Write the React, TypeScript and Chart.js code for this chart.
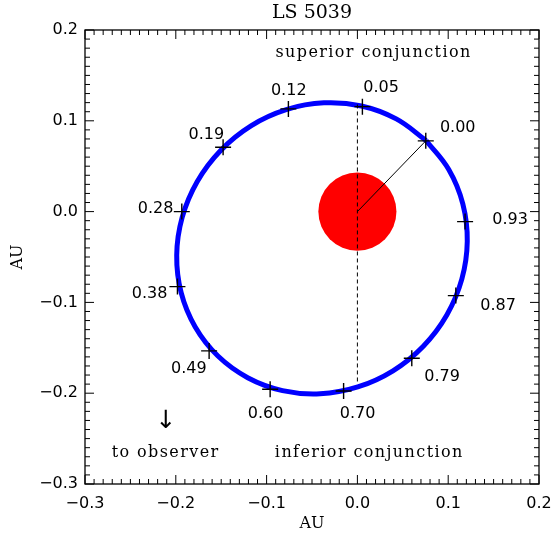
import React, { useEffect, useRef } from 'react';
import { Chart, registerables } from 'chart.js';

Chart.register(...registerables);

// ---- data ----
const TITLE = 'LS 5039';
const X_TITLE = 'AU';
const Y_TITLE = 'AU';

const xTickValues = [-0.3, -0.2, -0.1, 0.0, 0.1, 0.2];
const xTickLabels = ['\u22120.3', '\u22120.2', '\u22120.1', '0.0', '0.1', '0.2'];
const yTickValues = [-0.3, -0.2, -0.1, 0.0, 0.1, 0.2];
const yTickLabels = ['\u22120.3', '\u22120.2', '\u22120.1', '0.0', '0.1', '0.2'];

// orbit (counter-clockwise from periastron, closed)
const orbitX = [0.0756, 0.0428, 0.0045, -0.0369, -0.0784, -0.1172, -0.1506, -0.1765, -0.193, -0.199, -0.1941, -0.1786, -0.1536, -0.1208, -0.0825, -0.0411, 0.0004, 0.0392, 0.0726, 0.0985, 0.115, 0.121, 0.1161, 0.1006, 0.0756];
const orbitY = [0.0783, 0.1021, 0.1163, 0.1198, 0.1123, 0.0945, 0.0674, 0.033, -0.0064, -0.0481, -0.0893, -0.1271, -0.1591, -0.1829, -0.1971, -0.2006, -0.1931, -0.1753, -0.1482, -0.1138, -0.0744, -0.0327, 0.0085, 0.0463, 0.0783];

// orbital phase markers
const phaseLabels = ['0.00', '0.05', '0.12', '0.19', '0.28', '0.38', '0.49', '0.60', '0.70', '0.79', '0.87', '0.93'];
const phaseX = [0.0753, 0.0055, -0.076, -0.1479, -0.1934, -0.1982, -0.1633, -0.0961, -0.0152, 0.0599, 0.1084, 0.1186];
const phaseY = [0.0779, 0.1156, 0.1131, 0.0709, 0.0, -0.0826, -0.1534, -0.1956, -0.1975, -0.1615, -0.0925, -0.011];
const phaseLabelX = [0.1105, 0.0261, -0.0756, -0.1663, -0.2222, -0.2289, -0.1857, -0.1011, 0.0002, 0.0933, 0.155, 0.1682];
const phaseLabelY = [0.0881, 0.1322, 0.1285, 0.0797, -0.0018, -0.0954, -0.178, -0.2275, -0.2278, -0.1861, -0.1083, -0.0135];

// compact object / star
const starX = [0.0];
const starY = [0.0];
const STAR_RADIUS_AU = 0.043;

// line of conjunctions (dashed)
const conjX = [0.0, 0.0];
const conjY = [0.118, -0.189];

// periastron line (star -> phase 0.00)
const periX = [0.0, 0.0753];
const periY = [0.0, 0.0779];

// annotations
const annotTexts = ['superior conjunction', 'inferior conjunction', 'to observer'];
const annotX = [0.0178, 0.0131, -0.2112];
const annotY = [0.170, -0.2698, -0.2698];
const arrowText = '\u2193';
const arrowX = -0.2107;
const arrowY = -0.2316;

const X_MIN = -0.3, X_MAX = 0.2, Y_MIN = -0.3, Y_MAX = 0.2;
const MINOR_STEP = 0.01;

const pts = (xs: number[], ys: number[]) => xs.map((x, i) => ({ x, y: ys[i] }));

const frameTicksPlugin = {
  id: 'frameTicks',
  afterDatasetsDraw(chart: any) {
    const { ctx, chartArea: a, scales } = chart;
    const xs = scales.x, ys = scales.y;
    ctx.save();
    ctx.strokeStyle = '#000';
    ctx.lineWidth = 1.3;
    ctx.strokeRect(a.left, a.top, a.right - a.left, a.bottom - a.top);
    ctx.lineWidth = 1;
    ctx.beginPath();
    const nX = Math.round((X_MAX - X_MIN) / MINOR_STEP);
    for (let i = 0; i <= nX; i++) {
      const px = xs.getPixelForValue(X_MIN + i * MINOR_STEP);
      const len = i % 10 === 0 ? 9 : 5;
      ctx.moveTo(px, a.bottom); ctx.lineTo(px, a.bottom - len);
      ctx.moveTo(px, a.top); ctx.lineTo(px, a.top + len);
    }
    const nY = Math.round((Y_MAX - Y_MIN) / MINOR_STEP);
    for (let i = 0; i <= nY; i++) {
      const py = ys.getPixelForValue(Y_MIN + i * MINOR_STEP);
      const len = i % 10 === 0 ? 9 : 5;
      ctx.moveTo(a.left, py); ctx.lineTo(a.left + len, py);
      ctx.moveTo(a.right, py); ctx.lineTo(a.right - len, py);
    }
    ctx.stroke();

    ctx.fillStyle = '#000';
    ctx.textAlign = 'center';
    ctx.textBaseline = 'alphabetic';
    ctx.font = "16px 'DejaVu Sans'";
    phaseLabels.forEach((t, i) => {
      ctx.fillText(t, xs.getPixelForValue(phaseLabelX[i]), ys.getPixelForValue(phaseLabelY[i]));
    });

    ctx.font = "16px 'DejaVu Serif'";
    (ctx as any).letterSpacing = '1.4px';
    annotTexts.forEach((t, i) => {
      ctx.fillText(t, xs.getPixelForValue(annotX[i]), ys.getPixelForValue(annotY[i]));
    });
    (ctx as any).letterSpacing = '0px';
    ctx.textBaseline = 'middle';
    ctx.font = "25px 'DejaVu Sans'";
    ctx.fillText(arrowText, xs.getPixelForValue(arrowX), ys.getPixelForValue(arrowY));
    ctx.restore();
  },
};

export default function App() {
  const ref = useRef<HTMLCanvasElement | null>(null);
  useEffect(() => {
    if (!ref.current) return;
    const chart = new Chart(ref.current, {
      type: 'scatter',
      data: {
        datasets: [
          {
            label: 'phases',
            data: pts(phaseX, phaseY),
            pointStyle: 'cross',
            pointRadius: 8,
            borderColor: '#000',
            backgroundColor: '#000',
            borderWidth: 1.4,
            showLine: false,
          },
          {
            label: 'periastron',
            data: pts(periX, periY),
            showLine: true,
            borderColor: '#000',
            borderWidth: 1,
            pointRadius: 0,
          },
          {
            label: 'conjunctions',
            data: pts(conjX, conjY),
            showLine: true,
            borderColor: '#000',
            borderWidth: 1,
            borderDash: [4, 3],
            pointRadius: 0,
          },
          {
            label: 'orbit',
            data: pts(orbitX, orbitY),
            showLine: true,
            borderColor: '#0000ff',
            borderWidth: 5,
            tension: 0.4,
            pointRadius: 0,
          },
          {
            label: 'star',
            data: pts(starX, starY),
            showLine: false,
            pointStyle: 'circle',
            backgroundColor: '#ff0000',
            borderWidth: 0,
            pointRadius: (c: any) => {
              const s = c.chart.scales.x;
              return s.getPixelForValue(STAR_RADIUS_AU) - s.getPixelForValue(0);
            },
          },
        ],
      },
      options: {
        animation: false,
        responsive: false,
        devicePixelRatio: 1,
        events: [],
        layout: { padding: { left: 0, right: 12, top: 0, bottom: 0 } },
        plugins: {
          legend: { display: false },
          tooltip: { enabled: false },
          title: {
            display: true,
            text: TITLE,
            fullSize: false,
            color: '#000',
            font: { family: "'DejaVu Serif'", size: 19, weight: 'normal' },
            padding: { top: 2, bottom: 5.2 },
          },
        },
        scales: {
          x: {
            type: 'linear',
            min: X_MIN,
            max: X_MAX,
            afterBuildTicks: (s: any) => { s.ticks = xTickValues.map((v) => ({ value: v })); },
            ticks: {
              callback: (_v: any, i: number) => xTickLabels[i],
              color: '#000',
              font: { family: "'DejaVu Sans'", size: 16 },
              padding: 10,
              maxRotation: 0,
              autoSkip: false,
            },
            grid: { display: false, drawTicks: false },
            border: { display: false },
            title: {
              display: true,
              text: X_TITLE,
              color: '#000',
              font: { family: "'DejaVu Serif'", size: 16 },
              padding: { top: 0, bottom: 5 },
            },
            afterFit: (s: any) => { s.height = 54; s.paddingLeft = 0; s.paddingRight = 0; },
          },
          y: {
            type: 'linear',
            min: Y_MIN,
            max: Y_MAX,
            afterBuildTicks: (s: any) => { s.ticks = yTickValues.map((v) => ({ value: v })); },
            ticks: {
              callback: (_v: any, i: number) => yTickLabels[i],
              color: '#000',
              font: { family: "'DejaVu Sans'", size: 16 },
              padding: 7,
              autoSkip: false,
            },
            grid: { display: false, drawTicks: false },
            border: { display: false },
            title: {
              display: true,
              text: Y_TITLE,
              color: '#000',
              font: { family: "'DejaVu Serif'", size: 16 },
              padding: { top: 8, bottom: 0 },
            },
            afterFit: (s: any) => { s.width = 85; s.paddingTop = 0; s.paddingBottom = 0; },
          },
        },
      } as any,
      plugins: [frameTicksPlugin],
    });
    return () => chart.destroy();
  }, []);

  return (
    <div style={{ position: 'absolute', left: 0, top: 0, width: 551, height: 538, background: '#fff' }}>
      <canvas ref={ref} width={551} height={538} style={{ display: 'block' }} />
    </div>
  );
}
